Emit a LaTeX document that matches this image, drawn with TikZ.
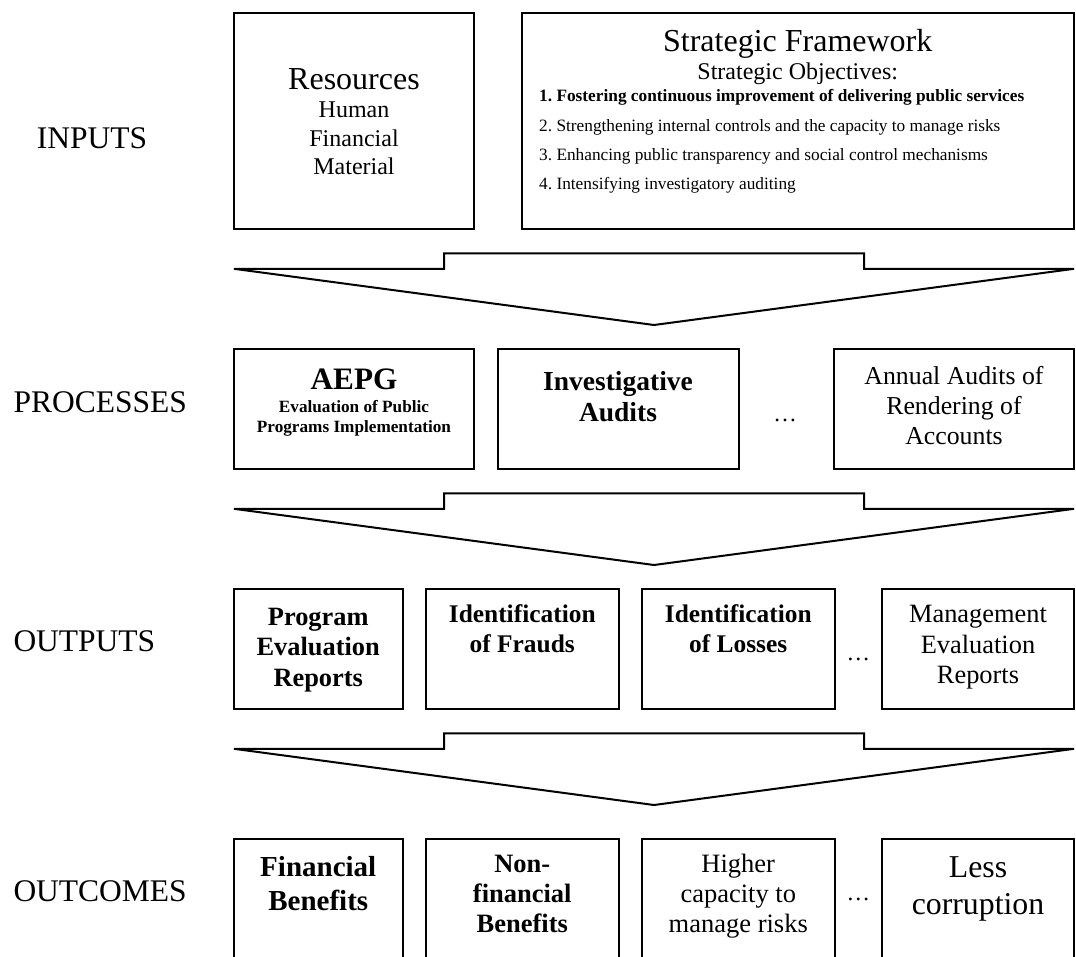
\documentclass[tikz,border=0pt]{standalone}
\usepackage{fontspec}
\setmainfont{Liberation Serif}
\usepackage{tikz}

\frenchspacing
\tikzset{
  box/.style={draw, line width=2pt, inner sep=0pt, anchor=base, align=flush center},
  lbl/.style={anchor=base west, inner sep=0pt, font=\fontsize{31.5}{36}\selectfont},
  dots/.style={anchor=base, inner sep=0pt, font=\fontsize{23.5}{26}\selectfont},
  blockarrow/.style={draw, line width=2pt}
}

\begin{document}
\begin{tikzpicture}[x=1pt,y=-1pt]
  \useasboundingbox (0,0) rectangle (1076,956);
  \clip (0,0) rectangle (1076,956);

  % stage names on the left
  \node[lbl] (inputs) at (36.7,148.3) {INPUTS};
  \node[lbl] (processes) at (13.3,412.5) {PROCESSES};
  \node[lbl] (outputs) at (13.3,651.7) {OUTPUTS};
  \node[lbl] (outcomes) at (13.3,901.7) {OUTCOMES};

  % inputs
  \node[box, text width=240.5pt, text height=76.8pt, text depth=139.7pt,
        font=\fontsize{24}{28.5}\selectfont] (res) at (354,89.3)
        {{\fontsize{32}{36}\selectfont Resources}\\Human\\Financial\\Material};
  \node[box, text width=552.5pt, text height=39.2pt, text depth=177.3pt,
        font=\fontsize{24}{27.6}\selectfont] (sf) at (797.75,51.7)
        {{\fontsize{32}{36}\selectfont Strategic Framework}\\Strategic Objectives:};
  \node[anchor=base west, inner sep=0pt, text width=530pt, align=flush left,
        font=\fontsize{17.3}{29.3}\selectfont] (obj) at (539,101.7)
        {\textbf{1. Fostering continuous improvement of delivering public services}\\
         2. Strengthening internal controls and the capacity to manage risks\\
         3. Enhancing public transparency and social control mechanisms\\
         4. Intensifying investigatory auditing};

  % processes
  \node[box, text width=240.5pt, text height=40.5pt, text depth=79.5pt,
        font=\fontsize{17.2}{20}\selectfont\bfseries] (aepg) at (354,389)
        {{\fontsize{31.2}{34}\selectfont AEPG}\\[3.7pt]Evaluation of Public\\Programs Implementation};
  \node[box, text width=241pt, text height=41.5pt, text depth=78.5pt,
        font=\fontsize{27.5}{31.7}\selectfont\bfseries] (inv) at (618,390)
        {Investigative\\Audits};
  \node[dots] (dp) at (785,421) {…};
  \node[box, text width=240pt, text height=35.5pt, text depth=84.5pt,
        font=\fontsize{25.8}{30}\selectfont] (ann) at (954,384)
        {Annual Audits of\\Rendering of\\Accounts};

  % outputs
  \node[box, text width=168.5pt, text height=36pt, text depth=84pt,
        font=\fontsize{26.4}{30.5}\selectfont\bfseries] (per) at (318.25,625)
        {Program\\Evaluation\\Reports};
  \node[box, text width=192.5pt, text height=33.7pt, text depth=86.3pt,
        font=\fontsize{25.4}{30}\selectfont\bfseries] (idf) at (522.25,622.7)
        {Identification\\of Frauds};
  \node[box, text width=192.5pt, text height=33.7pt, text depth=86.3pt,
        font=\fontsize{25.4}{30}\selectfont\bfseries] (idl) at (738.25,622.7)
        {Identification\\of Losses};
  \node[dots] (do) at (858.3,660) {…};
  \node[box, text width=192pt, text height=33.7pt, text depth=86.3pt,
        font=\fontsize{26.4}{30.5}\selectfont] (mer) at (978,622.7)
        {Management\\Evaluation\\Reports};

  % outcomes, boxes run off the bottom edge
  \node[box, text width=168.5pt, text height=38.2pt, text depth=93.3pt,
        font=\fontsize{29}{33.3}\selectfont\bfseries] (fb) at (318.25,876.7)
        {Financial\\Benefits};
  \node[box, text width=192.5pt, text height=33.5pt, text depth=98pt,
        font=\fontsize{26.5}{30}\selectfont\bfseries] (nfb) at (522.25,872)
        {Non-\\financial\\Benefits};
  \node[box, text width=192.5pt, text height=33.5pt, text depth=98pt,
        font=\fontsize{26.5}{30}\selectfont] (hcr) at (738.25,872)
        {Higher\\capacity to\\manage risks};
  \node[dots] (dc) at (858.3,900) {…};
  \node[box, text width=192pt, text height=38.5pt, text depth=93pt,
        font=\fontsize{31.8}{37}\selectfont] (lc) at (978,877)
        {Less\\corruption};

  % block arrows between the stages
  \foreach \y in {253.3,493.3,733.3}
    \draw[blockarrow] (234,\y+15.5) -- (444,\y+15.5) -- (444,\y) -- (864,\y)
      -- (864,\y+15.5) -- (1074,\y+15.5) -- (654,\y+71.7) -- cycle;
\end{tikzpicture}
\end{document}
